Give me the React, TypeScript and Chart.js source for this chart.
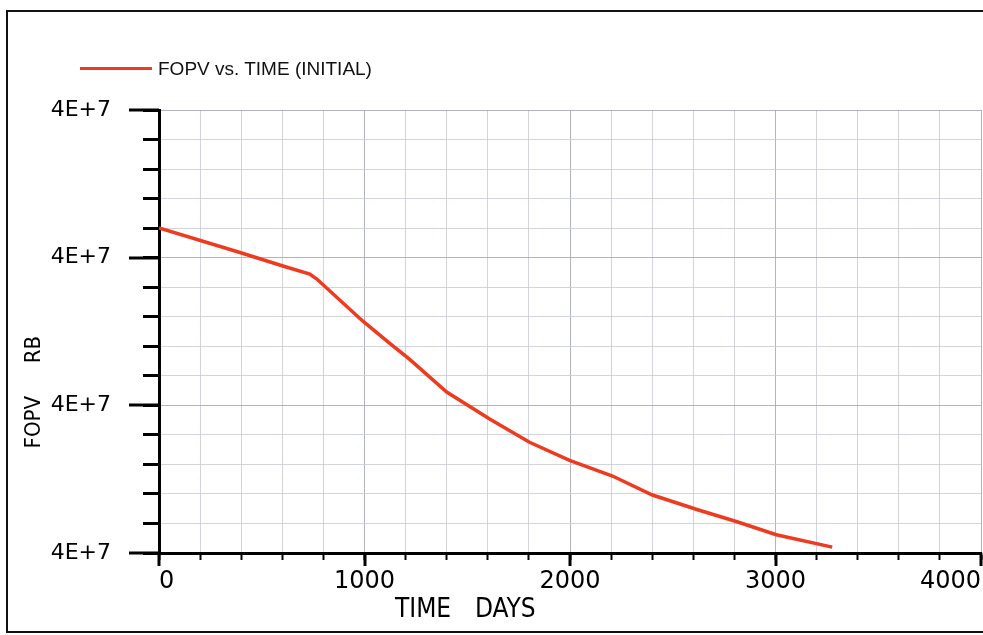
import React, { useEffect, useRef } from "react";
import { Chart, registerables } from "chart.js";

Chart.register(...registerables);

// Data
const timeDays = [0, 394, 603, 734, 768, 991, 1123, 1220, 1400, 1609, 1803, 1998, 2207, 2401, 2629, 2809, 3004, 3276];
const fopvRb = [
  38801000, 38552000, 38415000, 38334000, 38283000, 37857000, 37629000, 37466000, 37135000,
  36861000, 36625000, 36440000, 36282000, 36089000, 35934000, 35820000, 35686000, 35560000,
];
const xMajorTicks = [0, 1000, 2000, 3000, 4000];
const yMajorTicks = [35500000, 37000000, 38500000, 40000000];
const seriesLabel = "FOPV vs. TIME (INITIAL)";
const xTitleWords = ["TIME", "DAYS"];
const yTitleWords = ["FOPV", "RB"];

const lineColor = "rgb(238, 58, 30)";
const majorGrid = "rgba(160, 160, 185, 0.8)";
const minorGrid = "rgba(200, 200, 210, 0.8)";
const narrowFont = '"Liberation Sans Narrow", "DejaVu Sans Condensed", "Liberation Sans", sans-serif';

const majorTickPlugin = {
  id: "majorTicks",
  afterDraw(chart: any) {
    const { ctx, chartArea, scales } = chart;
    ctx.save();
    ctx.strokeStyle = "#000";
    ctx.lineWidth = 3;
    ctx.beginPath();
    yMajorTicks.forEach((v) => {
      const y = Math.round(scales.y.getPixelForValue(v));
      ctx.moveTo(chartArea.left - 30, y);
      ctx.lineTo(chartArea.left, y);
    });
    xMajorTicks.forEach((v) => {
      const x = Math.round(scales.x.getPixelForValue(v));
      ctx.moveTo(x, chartArea.bottom);
      ctx.lineTo(x, chartArea.bottom + 13);
    });
    ctx.stroke();
    ctx.restore();
  },
};

export default function App() {
  const ref = useRef<HTMLCanvasElement>(null);

  useEffect(() => {
    const canvas = ref.current!;
    const chart = new Chart(canvas, {
      type: "line",
      data: {
        datasets: [
          {
            label: seriesLabel,
            data: timeDays.map((t, i) => ({ x: t, y: fopvRb[i] })),
            borderColor: lineColor,
            backgroundColor: lineColor,
            borderWidth: 3.5,
            pointRadius: 0,
            tension: 0,
            fill: false,
          },
        ],
      },
      options: {
        responsive: false,
        animation: false,
        devicePixelRatio: 1,
        layout: { padding: { left: 20, top: 110, right: 1, bottom: 0 } },
        plugins: { legend: { display: false }, tooltip: { enabled: false } },
        scales: {
          x: {
            type: "linear",
            min: 0,
            max: 4000,
            ticks: {
              stepSize: 200,
              autoSkip: false,
              maxRotation: 0,
              minRotation: 0,
              align: "inner",
              padding: 2,
              color: "#000",
              font: { family: '"DejaVu Sans", sans-serif', size: 24, lineHeight: 1.62 },
              callback: (v: any) => (xMajorTicks.includes(Number(v)) ? String(v) : ""),
            },
            grid: {
              color: (c: any) => (xMajorTicks.includes(c.tick?.value) ? majorGrid : minorGrid),
              lineWidth: 1,
              tickColor: "#000",
              tickWidth: 2,
              tickLength: 7,
            },
            border: { color: "#000", width: 3 },
            afterFit: (s: any) => {
              s.height = 82;
            },
          },
          y: {
            type: "linear",
            min: 35500000,
            max: 40000000,
            ticks: {
              stepSize: 300000,
              autoSkip: false,
              padding: 32,
              color: "#000",
              font: { family: '"DejaVu Sans", sans-serif', size: 22 },
              callback: (v: any) =>
                yMajorTicks.includes(Number(v)) ? Number(v).toExponential(0).toUpperCase() : "",
            },
            grid: {
              color: (c: any) => (yMajorTicks.includes(c.tick?.value) ? majorGrid : minorGrid),
              lineWidth: 1,
              tickColor: "#000",
              tickWidth: 3,
              tickLength: 16,
            },
            border: { color: "#000", width: 3 },
            afterFit: (s: any) => {
              s.width = 139;
            },
          },
        },
      },
      plugins: [majorTickPlugin],
    } as any);
    return () => chart.destroy();
  }, []);

  return (
    <div
      style={{
        position: "fixed",
        left: 0,
        top: 0,
        width: 983,
        height: 635,
        overflow: "hidden",
        background: "#fff",
      }}
    >
      <canvas ref={ref} width={983} height={635} style={{ position: "absolute", left: 0, top: 0 }} />
      <div
        style={{
          position: "absolute",
          left: 6,
          top: 10,
          width: 1000,
          height: 623,
          boxSizing: "border-box",
          border: "2px solid #111",
          pointerEvents: "none",
        }}
      />
      <div
        style={{ position: "absolute", left: 80, top: 67, width: 72, height: 3, background: lineColor }}
      />
      <div
        style={{
          position: "absolute",
          left: 158,
          top: 59,
          font: '19px "Liberation Sans", sans-serif',
          lineHeight: "20px",
          color: "#111",
          whiteSpace: "nowrap",
        }}
      >
        {seriesLabel}
      </div>
      <div
        style={{
          position: "absolute",
          left: 395,
          top: 595,
          font: `26px ${narrowFont}`,
          lineHeight: "26px",
          color: "#000",
          whiteSpace: "nowrap",
        }}
      >
        {xTitleWords[0]}
      </div>
      <div
        style={{
          position: "absolute",
          left: 475,
          top: 595,
          font: `26px ${narrowFont}`,
          lineHeight: "26px",
          color: "#000",
          whiteSpace: "nowrap",
        }}
      >
        {xTitleWords[1]}
      </div>
      <div
        style={{
          position: "absolute",
          left: 22,
          top: 396,
          font: `22px ${narrowFont}`,
          lineHeight: "22px",
          color: "#000",
          whiteSpace: "nowrap",
          writingMode: "vertical-rl",
          transform: "rotate(180deg)",
        }}
      >
        {yTitleWords[0]}
      </div>
      <div
        style={{
          position: "absolute",
          left: 22,
          top: 336,
          font: `22px ${narrowFont}`,
          lineHeight: "22px",
          color: "#000",
          whiteSpace: "nowrap",
          writingMode: "vertical-rl",
          transform: "rotate(180deg)",
        }}
      >
        {yTitleWords[1]}
      </div>
    </div>
  );
}
